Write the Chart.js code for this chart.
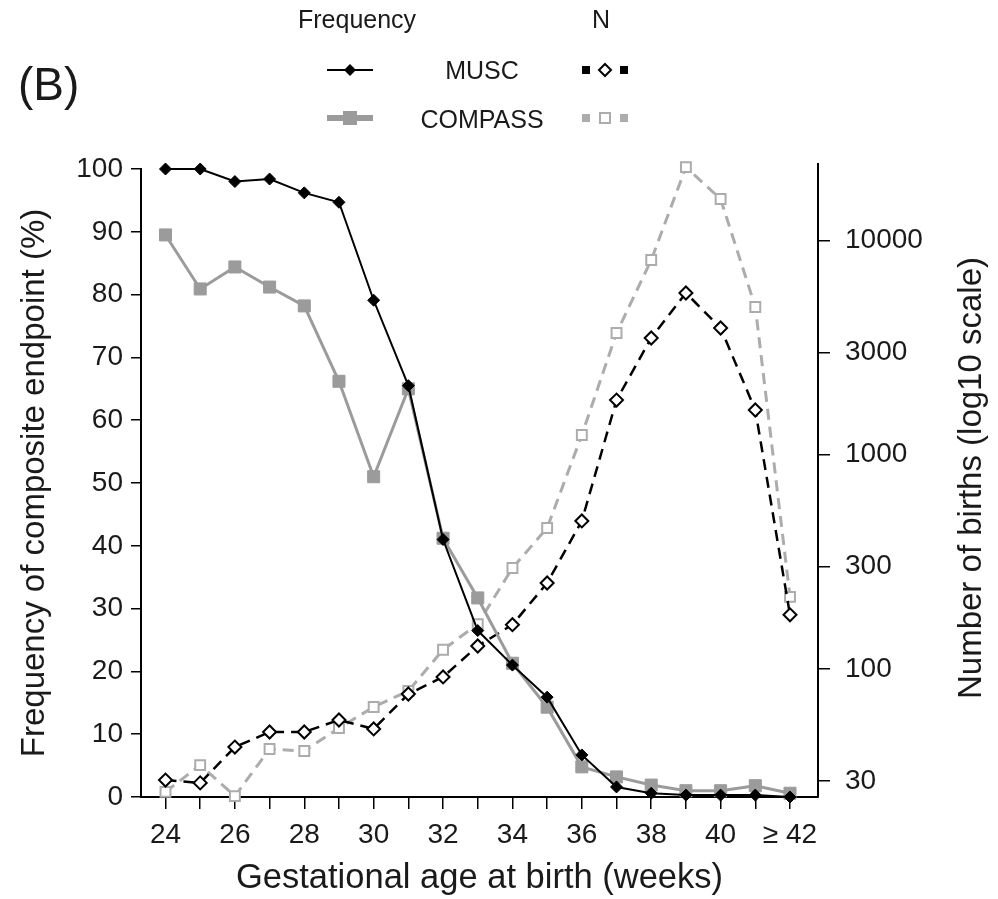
<!DOCTYPE html>
<html><head><meta charset="utf-8">
<script src="https://cdn.jsdelivr.net/npm/chart.js@4"></script>
<style>html,body{margin:0;padding:0;background:#fff}#wrap{width:998px;height:899px;position:relative}</style>
</head><body><div id="wrap"><canvas id="c" width="998" height="899"></canvas></div>
<script>
// ---- data ----
const weeks = [24,25,26,27,28,29,30,31,32,33,34,35,36,37,38,39,40,41,42];
const weekLabels = ['24','','26','','28','','30','','32','','34','','36','','38','','40','','≥ 42'];
const muscFreq    = [100,100,98,98.4,96.2,94.7,79.1,65.5,41,26.5,21,15.9,6.7,1.6,0.6,0.3,0.3,0.3,0];
const compassFreq = [89.5,80.9,84.4,81.2,78.2,66.2,51,65,41.2,31.7,21.3,14.3,4.8,3.2,1.9,1.0,1.0,1.8,0.6];
const muscN    = [30.3,29.4,43.2,50.8,50.8,57.8,52.5,76.4,91.8,128,161,252,491,1800,3507,5690,3906,1618,179];
const compassN = [26.7,35.6,25.5,42.3,41.4,53,66.5,78.9,123,162,296,455,1236,3700,8110,22000,15620,4897,217];
const leftTicks = [0,10,20,30,40,50,60,70,80,90,100];
const rightTicks = [30,100,300,1000,3000,10000];

const FONT = '"Liberation Sans", Arial, Helvetica, sans-serif';
const TXT = '#1a1a1a';
const GREY = '#9b9b9b';
const GREY_N = '#acacac';

const pts = arr => arr.map((v,i)=>({x:weeks[i], y:v}));

const overlay = {
  id:'overlay',
  afterDraw(chart){
    const ctx = chart.ctx;
    const area = chart.chartArea;
    ctx.save();
    // right axis line extends slightly above the plot area
    ctx.strokeStyle = '#000'; ctx.lineWidth = 2;
    ctx.beginPath(); ctx.moveTo(area.right, area.top - 6); ctx.lineTo(area.right, area.top + 1); ctx.stroke();
    ctx.fillStyle = TXT;
    // panel label
    ctx.font = '46px ' + FONT;
    ctx.textAlign = 'left'; ctx.textBaseline = 'alphabetic';
    ctx.fillText('(B)', 18, 100);
    // legend headers
    ctx.font = '25px ' + FONT;
    ctx.fillText('Frequency', 298, 28);
    ctx.textAlign = 'center';
    ctx.fillText('N', 601, 28);
    ctx.fillText('MUSC', 482, 79);
    ctx.fillText('COMPASS', 482, 128);
    // MUSC frequency symbol
    ctx.strokeStyle = '#000'; ctx.lineWidth = 2;
    ctx.beginPath(); ctx.moveTo(327,70); ctx.lineTo(373,70); ctx.stroke();
    ctx.fillStyle = '#000';
    ctx.beginPath(); ctx.moveTo(344,70); ctx.lineTo(350,64); ctx.lineTo(356,70); ctx.lineTo(350,76); ctx.closePath(); ctx.fill();
    // COMPASS frequency symbol
    ctx.strokeStyle = GREY; ctx.lineWidth = 6;
    ctx.beginPath(); ctx.moveTo(327,118); ctx.lineTo(373,118); ctx.stroke();
    ctx.fillStyle = GREY; ctx.fillRect(343,111,14,14);
    // MUSC N symbol
    ctx.fillStyle = '#000';
    ctx.fillRect(582,66,8,8); ctx.fillRect(620,66,8,8);
    ctx.strokeStyle = '#000'; ctx.lineWidth = 2; ctx.fillStyle = '#fff';
    ctx.beginPath(); ctx.moveTo(599,70); ctx.lineTo(605,64); ctx.lineTo(611,70); ctx.lineTo(605,76); ctx.closePath(); ctx.fill(); ctx.stroke();
    // COMPASS N symbol
    ctx.fillStyle = GREY_N;
    ctx.fillRect(582,114,8,8); ctx.fillRect(620,114,8,8);
    ctx.strokeStyle = GREY_N; ctx.fillStyle = '#fff';
    ctx.beginPath(); ctx.rect(600,113,10,10); ctx.fill(); ctx.stroke();
    // right axis title (reads bottom to top)
    ctx.fillStyle = TXT;
    ctx.font = '33px ' + FONT;
    ctx.translate(972, 478);
    ctx.rotate(-Math.PI/2);
    ctx.textAlign = 'center'; ctx.textBaseline = 'middle';
    ctx.fillText('Number of births (log10 scale)', 0, 0);
    ctx.restore();
  }
};

new Chart(document.getElementById('c'), {
  type:'line',
  data:{
    datasets:[
      {label:'MUSC frequency', data:pts(muscFreq), yAxisID:'y', borderColor:'#000', borderWidth:2,
       pointStyle:'rectRot', pointRadius:6, pointBackgroundColor:'#000', pointBorderColor:'#000', pointBorderWidth:1, clip:false, order:0},
      {label:'COMPASS frequency', data:pts(compassFreq), yAxisID:'y', borderColor:GREY, borderWidth:3,
       pointStyle:'rect', pointRadius:8.5, pointBackgroundColor:GREY, pointBorderColor:GREY, pointBorderWidth:1, clip:false, order:1},
      {label:'MUSC N', data:pts(muscN), yAxisID:'y2', borderColor:'#000', borderWidth:2.5, borderDash:[11,7],
       pointStyle:'rectRot', pointRadius:6.5, pointBackgroundColor:'#fff', pointBorderColor:'#000', pointBorderWidth:2, clip:false, order:2},
      {label:'COMPASS N', data:pts(compassN), yAxisID:'y2', borderColor:GREY_N, borderWidth:3, borderDash:[11,7],
       pointStyle:'rect', pointRadius:7, pointBackgroundColor:'#fff', pointBorderColor:GREY_N, pointBorderWidth:2, clip:false, order:3}
    ]
  },
  options:{
    responsive:false, animation:false, devicePixelRatio:1,
    layout:{padding:{top:169,left:0,right:0,bottom:0}},
    plugins:{legend:{display:false}, tooltip:{enabled:false}},
    elements:{line:{tension:0}},
    scales:{
      x:{type:'linear', min:23.294, max:42.807,
         afterBuildTicks:s=>{s.ticks = weeks.map(v=>({value:v}));},
         afterFit:s=>{s.height = 102;},
         grid:{drawOnChartArea:false, drawTicks:true, tickLength:12, color:'#000', lineWidth:1.5},
         border:{display:true, color:'#000', width:2},
         ticks:{autoSkip:false, maxRotation:0, padding:9, color:TXT, font:{family:FONT,size:28},
                callback:(v,i)=>weekLabels[i]},
         title:{display:true, text:'Gestational age at birth (weeks)', color:TXT, font:{family:FONT,size:34.5}, padding:{top:0,bottom:0}}
      },
      y:{type:'linear', position:'left', min:0, max:100,
         afterBuildTicks:s=>{s.ticks = leftTicks.map(v=>({value:v}));},
         afterFit:s=>{s.width = 141;},
         grid:{drawOnChartArea:false, drawTicks:true, tickLength:10, color:'#000', lineWidth:1.5},
         border:{display:true, color:'#000', width:2},
         ticks:{padding:8, color:TXT, font:{family:FONT,size:28}},
         title:{display:true, text:'Frequency of composite endpoint (%)', color:TXT, font:{family:FONT,size:33}, padding:{top:15,bottom:0}}
      },
      y2:{type:'logarithmic', position:'right', min:25.26, max:21566,
         afterBuildTicks:s=>{s.ticks = rightTicks.map(v=>({value:v}));},
         afterFit:s=>{s.width = 180;},
         grid:{drawOnChartArea:false, drawTicks:true, tickLength:12, color:'#000', lineWidth:1.5},
         border:{display:true, color:'#000', width:2},
         ticks:{padding:15, color:TXT, font:{family:FONT,size:28}, callback:v=>String(v)},
         title:{display:false}
      }
    }
  },
  plugins:[overlay]
});
</script>
</body></html>
